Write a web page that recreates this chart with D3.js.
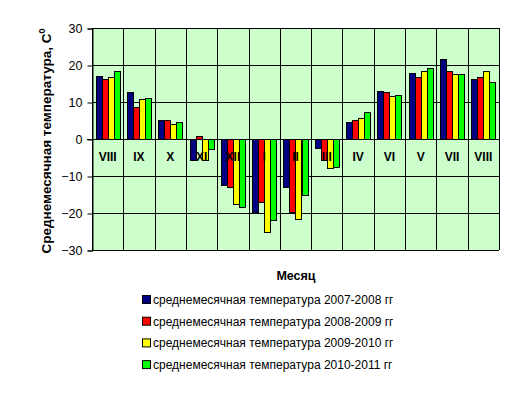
<!DOCTYPE html>
<html lang="ru">
<head>
<meta charset="UTF-8">
<title>Среднемесячная температура</title>
<style>
  body { margin: 0; background: #fff; }
  text { font-family: "Liberation Sans", Arial, sans-serif; fill: #000; }
</style>
</head>
<body>
<script src="https://d3js.org/d3.v7.min.js"></script>
<div id="container"></div>
<script>
// month labels as they appear on the chart (VIII occurs twice)
var months = ['VIII', 'IX', 'X', 'XI', 'XII', 'I', 'II', 'III', 'IV', 'VI', 'V', 'VII', 'VIII'];
var seriesNames = [
    'среднемесячная температура 2007-2008 гг',
    'среднемесячная температура 2008-2009 гг',
    'среднемесячная температура 2009-2010 гг',
    'среднемесячная температура 2010-2011 гг'
];
var t2007 = [17.0, 12.7, 5.1, -5.6, -12.3, -19.8, -13.1, -2.5, 4.6, 13.0, 17.8, 21.6, 16.1];
var t2008 = [16.1, 8.6, 5.1, 0.9, -13.1, -17.1, -19.6, -5.7, 5.1, 12.6, 16.7, 18.3, 16.7];
var t2009 = [16.7, 10.8, 4.0, -5.8, -17.7, -25.0, -21.7, -7.8, 5.6, 11.5, 18.3, 17.7, 18.3];
var t2010 = [18.4, 11.0, 4.5, -2.7, -18.3, -22.0, -15.2, -7.6, 7.2, 11.8, 19.1, 17.7, 15.3];
var yTicks = [-30, -20, -10, 0, 10, 20, 30];
var colors = ['#000080', '#ff0000', '#ffff00', '#00ff00'];

var series = [t2007, t2008, t2009, t2010];

var W = 514, H = 398;
var plot = {left: 92, right: 499, top: 28, bottom: 250};

var svg = d3.select('#container').append('svg').attr('width', W).attr('height', H);

var x = d3.scaleBand().domain(d3.range(months.length)).range([plot.left, plot.right]).paddingInner(0).paddingOuter(0);
var x1 = d3.scaleBand().domain(d3.range(series.length)).range([0, x.bandwidth()]).paddingInner(0).paddingOuter(0.6);
var y = d3.scaleLinear().domain([-30, 30]).range([plot.bottom, plot.top]);

// plot background
svg.append('rect')
    .attr('x', plot.left).attr('y', plot.top)
    .attr('width', plot.right - plot.left).attr('height', plot.bottom - plot.top)
    .attr('fill', '#ccffcc');

// horizontal grid
svg.append('g').selectAll('line').data(yTicks).enter().append('line')
    .attr('x1', plot.left).attr('x2', plot.right)
    .attr('y1', d => Math.round(y(d)) + 0.5).attr('y2', d => Math.round(y(d)) + 0.5)
    .attr('stroke', '#000').attr('stroke-width', 1);

// vertical grid at category boundaries
var bounds = d3.range(months.length + 1).map(i => i < months.length ? x(i) : plot.right);
svg.append('g').selectAll('line').data(bounds).enter().append('line')
    .attr('x1', d => Math.round(d) + 0.5).attr('x2', d => Math.round(d) + 0.5)
    .attr('y1', plot.top).attr('y2', plot.bottom)
    .attr('stroke', '#000').attr('stroke-width', 1);

// bars
var groups = svg.append('g').selectAll('g').data(series).enter().append('g')
    .attr('fill', (d, i) => colors[i]);
groups.each(function(vals, si) {
    d3.select(this).selectAll('rect').data(vals).enter().append('rect')
        .attr('x', (v, i) => Math.round(x(i) + x1(si)) + 0.5)
        .attr('y', v => Math.round(y(Math.max(0, v))) + 0.5)
        .attr('width', Math.round(x1.bandwidth()))
        .attr('height', v => Math.max(1, Math.round(Math.abs(y(v) - y(0)))))
        .attr('stroke', '#000').attr('stroke-width', 1);
});

// zero axis line
svg.append('line')
    .attr('x1', plot.left - 5).attr('x2', plot.right)
    .attr('y1', Math.round(y(0)) + 0.5).attr('y2', Math.round(y(0)) + 0.5)
    .attr('stroke', '#000');

// month labels next to zero axis
svg.append('g').selectAll('text').data(months).enter().append('text')
    .attr('x', (d, i) => x(i) + x.bandwidth() / 2)
    .attr('y', y(0) + 22)
    .attr('text-anchor', 'middle')
    .style('font-size', '12px').style('font-weight', 'bold')
    .text(d => d);

// y axis
var yAxis = svg.append('g')
    .attr('transform', `translate(${plot.left + 0.5},0.5)`)
    .call(d3.axisLeft(y).tickValues(yTicks).tickSize(5).tickPadding(5));
yAxis.selectAll('text').style('font-size', '12.5px').attr('fill', '#000');
yAxis.selectAll('line, path').attr('stroke', '#000');

// y title
var yt = svg.append('text')
    .attr('transform', `translate(51,${(plot.top + plot.bottom) / 2 + 2}) rotate(-90)`)
    .attr('text-anchor', 'middle')
    .style('font-size', '13.5px').style('font-weight', 'bold');
yt.append('tspan').text('Среднемесячная температура, С');
yt.append('tspan').attr('dy', -6).style('font-size', '9px').text('0');

// x title
svg.append('text')
    .attr('x', 296).attr('y', 280)
    .attr('text-anchor', 'middle')
    .style('font-size', '12.5px').style('font-weight', 'bold')
    .text('Месяц');

// legend
var legend = svg.append('g').selectAll('g').data(seriesNames).enter().append('g')
    .attr('transform', (d, i) => `translate(142,${300 + i * 21.7})`);
legend.append('rect')
    .attr('x', 0.5).attr('y', -4.5).attr('width', 8).attr('height', 8)
    .attr('fill', (d, i) => colors[i]).attr('stroke', '#000');
legend.append('text')
    .attr('x', 11).attr('y', 4)
    .style('font-size', '12px')
    .text(d => d);
</script>
</body>
</html>
